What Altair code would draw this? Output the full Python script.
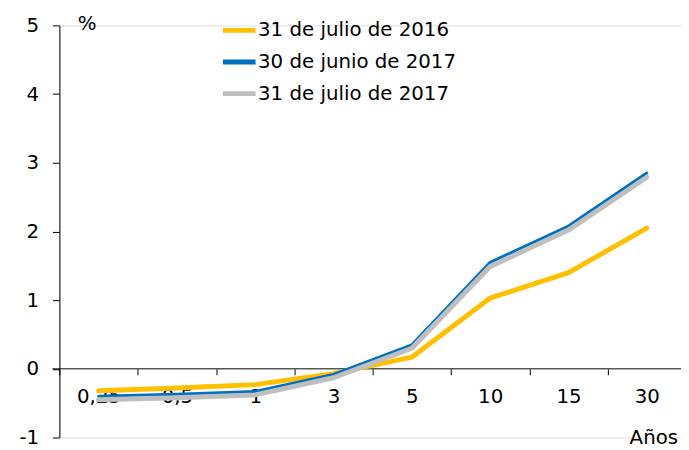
import altair as alt
import pandas as pd

plazos = ["0,25", "0,5", "1", "3", "5", "10", "15", "30"]
series_names = ["31 de julio de 2016", "30 de junio de 2017", "31 de julio de 2017"]
jul_2016 = [-0.32, -0.28, -0.23, -0.07, 0.17, 1.03, 1.40, 2.05]
jun_2017 = [-0.40, -0.37, -0.33, -0.08, 0.35, 1.55, 2.08, 2.85]
jul_2017 = [-0.45, -0.42, -0.38, -0.13, 0.30, 1.49, 2.02, 2.79]
colors = ["#FFC000", "#0070C0", "#BFBFBF"]
widths = [5, 3, 5]
y_ticks = [-1, 0, 1, 2, 3, 4, 5]

rows = []
for name, vals in zip(series_names, [jul_2016, jun_2017, jul_2017]):
    for p, v in zip(plazos, vals):
        rows.append({"plazo": p, "valor": v, "serie": name})
df = pd.DataFrame(rows)

W, H = 629, 417
XR = 634  # x range extends past the visible right edge (cropped like the original)
FONT = "DejaVu Sans"

x_enc = alt.X(
    "plazo:O",
    sort=plazos,
    bandPosition=0.5,
    scale=alt.Scale(type="band", paddingInner=0, paddingOuter=0, range=[0, XR]),
    axis=alt.Axis(
        title="Años",
        titleX=601,
        titleY=70,
        titleAlign="center",
        titleBaseline="middle",
        titleFontWeight="normal",
        titleFontSize=20,
        titleFont=FONT,
        titleColor="black",
        labelAngle=0,
        labelFontSize=20,
        labelFont=FONT,
        labelColor="black",
        labelPadding=12,
        tickBand="extent",
        tickSize=6,
        tickColor="black",
        domain=False,
        offset=-H / 6,
        zindex=0,
    ),
)

y_enc = alt.Y(
    "valor:Q",
    scale=alt.Scale(domain=[-1, 5], nice=False, zero=False),
    axis=alt.Axis(
        values=y_ticks,
        title="%",
        titleAngle=0,
        titleX=18,
        titleY=-2,
        titleAlign="left",
        titleBaseline="middle",
        titleFontWeight="normal",
        titleFontSize=20,
        titleFont=FONT,
        titleColor="black",
        labelFontSize=20,
        labelFont=FONT,
        labelColor="black",
        labelPadding=14,
        labelExpr="'' + datum.value",
        tickSize=7,
        tickColor="black",
        domainColor="black",
        grid=False,
        zindex=0,
    ),
)

color_enc = alt.Color(
    "serie:N",
    sort=series_names,
    scale=alt.Scale(domain=series_names, range=colors),
    legend=alt.Legend(
        title=None,
        orient="none",
        legendX=163,
        legendY=-14,
        symbolType="stroke",
        symbolSize=1089,
        symbolStrokeWidth=5,
        labelFontSize=20,
        labelFont=FONT,
        labelColor="black",
        labelOffset=0,
        labelLimit=0,
        rowPadding=3,
        padding=0,
    ),
)

base = alt.Chart(df).encode(x=x_enc, y=y_enc, color=color_enc)

line_layers = [
    base.transform_filter(alt.datum.serie == name).mark_line(
        strokeWidth=w, strokeCap="round", strokeJoin="round"
    )
    for name, w in zip(series_names, widths)
]

zero = pd.DataFrame({"y": [0]})
zero_rule = alt.Chart(zero).mark_rule(color="black", strokeWidth=1).encode(
    y=alt.Y("y:Q", scale=alt.Scale(domain=[-1, 5], nice=False)),
    x=alt.value(-7),
    x2=alt.value(XR),
)

chart = alt.layer(zero_rule, *line_layers).properties(
    width=W,
    height=H,
    autosize=alt.AutoSizeParams(type="none"),
    padding={"left": 52, "top": 15, "right": 0, "bottom": 10},
).configure_view(stroke=None).configure(background="white")

chart.save("out.html", embed_options={"renderer": "svg", "actions": False})
